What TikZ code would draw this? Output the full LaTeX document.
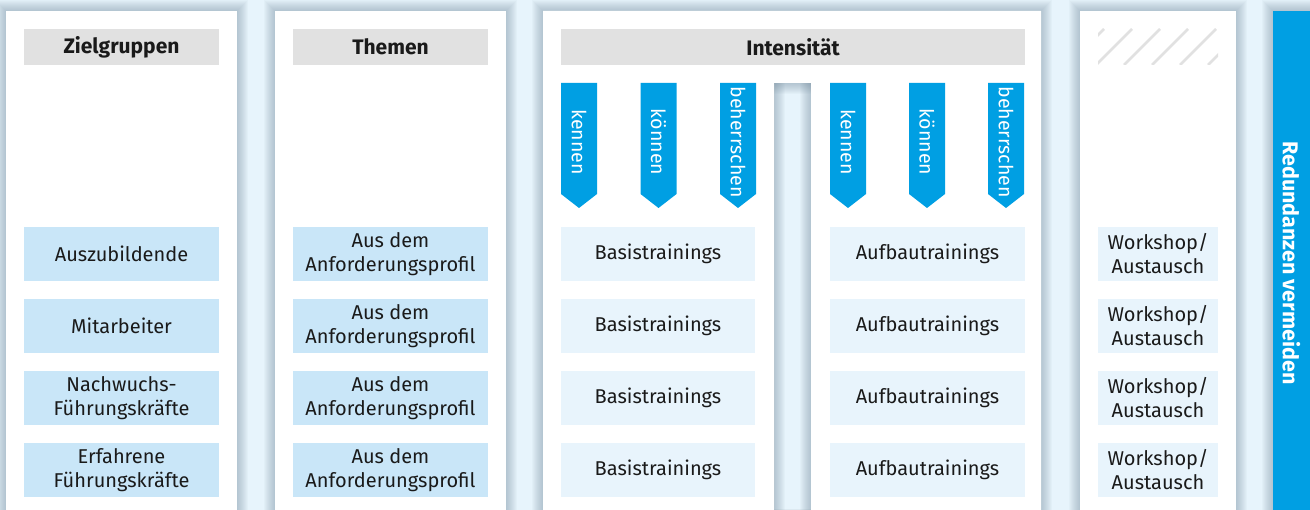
\documentclass[tikz,border=0pt]{standalone}
\usepackage{fontspec}
\setmainfont{Fira Sans}
\definecolor{bgblue}{HTML}{E7F4FC}
\definecolor{hdrgray}{HTML}{E1E1E1}
\definecolor{midblue}{HTML}{C9E6F8}
\definecolor{palblue}{HTML}{E8F4FC}
\definecolor{strongblue}{HTML}{009FE3}
\definecolor{shadowcol}{HTML}{6F8899}
\definecolor{txt}{HTML}{1A1A1A}
\tikzset{
  hdr/.style={fill=hdrgray, minimum height=36pt, inner sep=0pt, font=\fontsize{21}{24}\selectfont\bfseries, text=txt},
  cellA/.style={fill=midblue, minimum height=54pt, inner sep=0pt, align=center, font=\fontsize{20}{24}\selectfont, text=txt},
  cellB/.style={fill=palblue, minimum height=54pt, inner sep=0pt, align=center, font=\fontsize{20}{24}\selectfont, text=txt},
  lvl/.style={fill=strongblue, draw=none},
  lvltext/.style={rotate=-90, text=white, inner sep=0pt, font=\fontsize{19.5}{22}\selectfont},
  shadowlayer/.style={fill=shadowcol, fill opacity=0.045, nonzero rule},
}
\newcommand{\softshadow}[4]{%
  \foreach \i in {1,...,11}{
    \fill[shadowlayer] ({#1-\i},{#2-\i}) rectangle ({#3+\i},{#4+\i});
  }%
}
\begin{document}
\begin{tikzpicture}[x=1pt,y=-1pt]
\useasboundingbox (0,0) rectangle (1310,510);
\fill[bgblue] (0,0) rectangle (1310,510);
\begin{scope}
\clip (0,0) rectangle (1310,510);
% shadows outside the gap
\begin{scope}[even odd rule]
\clip (0,0) rectangle (1310,510) (774,83) rectangle (811,530);
\softshadow{6}{11}{237}{530}
\softshadow{275}{11}{506}{530}
\softshadow{543}{11}{1041}{530}
\softshadow{1080}{11}{1236}{530}
\softshadow{1273}{11}{1330}{530}
\end{scope}
% shadows inside the gap of the Intensität panel
\begin{scope}
\clip (774,83) rectangle (811,530);
\softshadow{543}{11}{774}{530}
\softshadow{811}{11}{1041}{530}
\softshadow{774}{11}{811}{83}
\end{scope}
% panel fills
\fill[white] (6,11) rectangle (237,530);
\fill[white] (275,11) rectangle (506,530);
\fill[white] (543,11) -- (1041,11) -- (1041,530) -- (811,530) -- (811,83) -- (774,83) -- (774,530) -- (543,530) -- cycle;
\fill[white] (1080,11) rectangle (1236,530);
\fill[strongblue] (1273,11) rectangle (1330,530);
\end{scope}
\node[rotate=-90, text=white, inner sep=0pt, font=\fontsize{21.5}{24}\selectfont\bfseries] (red) at (1291.5,263) {Redundanzen vermeiden};
% headers
\node[hdr, minimum width=195pt] (hz) at (121.5,47) {Zielgruppen};
\node[hdr, minimum width=195pt] (ht) at (390.5,47) {Themen};
\node[hdr, minimum width=464pt] (hi) at (793,47) {Intensität};
\node[minimum width=120pt, minimum height=36pt, inner sep=0pt] (hw) at (1158,47) {};
\begin{scope}
\clip (1098,29) rectangle (1218,65);
\foreach \k in {-1,...,5}{
  \draw[hdrgray, line width=2.6pt] ({1096+28*\k},65) -- ({1132+28*\k},29);
}
\end{scope}
% level arrows
\foreach \xa/\nm/\lab in {561/a1/kennen, 640.5/a2/können, 720/a3/beherrschen, 830/a4/kennen, 909/a5/können, 988/a6/beherrschen}{
  \fill[lvl] (\xa,83) -- ({\xa+36},83) -- ({\xa+36},194) -- ({\xa+18},208) -- (\xa,194) -- cycle;
  \node[lvltext] (\nm) at ({\xa+18},142) {\lab};
}
% rows
\foreach \r/\yy in {1/254,2/326,3/398,4/470}{
  \node[cellA, minimum width=195pt] (t\r) at (390.5,\yy) {Aus dem\\Anforderungsprofil};
  \node[cellB, minimum width=194pt] (b\r) at (658,\yy) {Basistrainings};
  \node[cellB, minimum width=195pt] (u\r) at (927.5,\yy) {Aufbautrainings};
  \node[cellB, minimum width=120pt] (w\r) at (1158,\yy) {Workshop/\\Austausch};
}
\node[cellA, minimum width=195pt] (z1) at (121.5,254) {Auszubildende};
\node[cellA, minimum width=195pt] (z2) at (121.5,326) {Mitarbeiter};
\node[cellA, minimum width=195pt] (z3) at (121.5,398) {Nachwuchs-\\Führungskräfte};
\node[cellA, minimum width=195pt] (z4) at (121.5,470) {Erfahrene\\Führungskräfte};
\end{tikzpicture}
\end{document}
